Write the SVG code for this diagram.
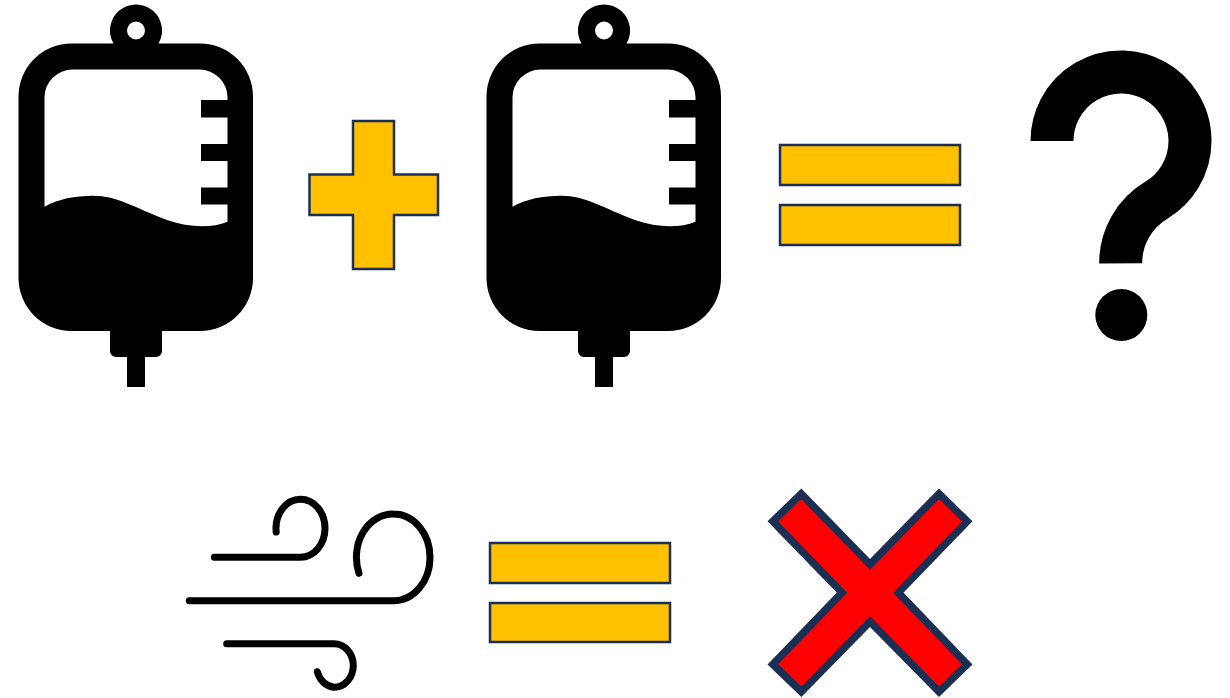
<svg xmlns="http://www.w3.org/2000/svg" width="1230" height="698" viewBox="0 0 1230 698">
<style>
.sym{fill:#FFC000;stroke:#1B2F55;stroke-width:2.5}
.wind{fill:none;stroke:#000;stroke-width:7;stroke-linecap:round}
</style>
<defs>
<g id="bag-shape">
<path fill-rule="evenodd" d="M71.5 43.5H113.5A26 26 0 1 1 158.5 43.5H200A53 53 0 0 1 253 96.5V278A53 53 0 0 1 200 331H162V351A6 6 0 0 1 156 357H145V387H127V357H116A6 6 0 0 1 110 351V331H71.5A53 53 0 0 1 18.500 278V96.5A53 53 0 0 1 71.5 43.5ZM145 30.500A9 9 0 1 0 127 30.500A9 9 0 1 0 145 30.500ZM72.500 69.500A28 28 0 0 0 44.500 97.500V206.700C58 199 75 195.700 93 195.700C118 195.700 135 208 167 220C190 228 212 228 227.500 221.700V204.500H201V187.500H227.500V161H201V144H227.500V117.500H201V100H227.500V97.500A28 28 0 0 0 199.500 69.500Z"/>
</g>
</defs>
<rect width="1230" height="698" fill="#fff"/>
<g id="bag-1"><use href="#bag-shape"/></g>
<g id="plus"><path class="sym" d="M353 121H394V174.500H438V215H394V269H353V215H309.500V174.500H353Z"/></g>
<g id="bag-2"><use href="#bag-shape" transform="translate(468 0)"/></g>
<g id="equals-1">
<rect class="sym" x="780" y="145" width="180" height="40"/>
<rect class="sym" x="780" y="205" width="180" height="40"/>
</g>
<g id="question">
<path d="M1052 141A69 69 0 1 1 1156.700 200A73 73 0 0 0 1120.700 263.300" fill="none" stroke="#000" stroke-width="43"/>
<circle cx="1121.300" cy="315" r="26"/>
</g>
<g id="wind">
<path class="wind" d="M214.300 557.300H300.500A24.500 29 0 0 0 325 528.300A24.500 29 0 0 0 300.500 499.300A24.500 29 0 0 0 276.200 532"/>
<path class="wind" d="M189.300 600.700H393.600A36.400 43.300 0 0 0 430 557.300A36.400 43.300 0 0 0 393.600 514A36.400 43.300 0 0 0 359 573.300"/>
<path class="wind" d="M226.700 643.700H334A19.300 21.800 0 0 1 353.300 665.500A19.300 21.800 0 0 1 334 687.300A19.300 21.800 0 0 1 317.300 671.700"/>
</g>
<g id="equals-2">
<rect class="sym" x="490" y="543" width="180" height="40"/>
<rect class="sym" x="490" y="603" width="180" height="39"/>
</g>
<g id="cross">
<path d="M801.300 493.800L870 564.300L939 493.800L967.200 521.300L898.300 592.700L967.200 664.300L939 691.800L870 621.700L801.300 691.800L772.800 664.300L842 592.700L772.800 521.300Z" fill="#FF0000" stroke="#1B2F55" stroke-width="7.5" stroke-miterlimit="10"/>
</g>
</svg>
